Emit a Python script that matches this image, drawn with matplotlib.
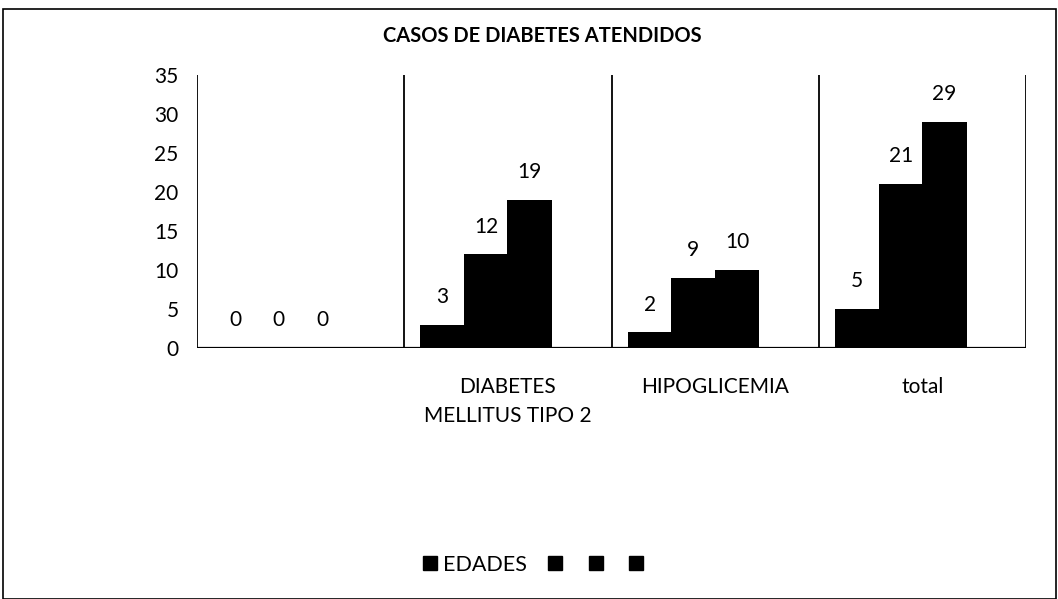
import matplotlib
matplotlib.use("Agg")
import matplotlib.pyplot as plt
import numpy as np
from matplotlib.patches import Rectangle

plt.rcParams['font.family'] = ['Lato', 'DejaVu Sans']

categories = ["", "DIABETES\nMELLITUS TIPO 2", "HIPOGLICEMIA", "total"]
series_names = ["EDADES", "", "", ""]
series_values = [
    [0, 3, 2, 5],
    [0, 12, 9, 21],
    [0, 19, 10, 29],
    [0, 0, 0, 0],
]
show_labels = [True, True, True, False]

FS = 15

fig = plt.figure(figsize=(10.58, 5.99), dpi=100)
ax = fig.add_axes([0.186, 0.419, 0.784, 0.456])

x = np.arange(len(categories))
w = 0.21
n = len(series_values)
handles = []
for i, vals in enumerate(series_values):
    off = (i - (n - 1) / 2) * w
    ax.bar(x + off, vals, width=w * 1.02, color='black', linewidth=0)
    handles.append(Rectangle((0, 0), 1, 1, color='black'))
    if show_labels[i]:
        for xi, v in zip(x + off, vals):
            ax.annotate(str(v), (xi, v), xytext=(0, 20), textcoords='offset points',
                        ha='center', va='center', fontsize=FS)

ax.set_xlim(-0.5, len(categories) - 0.5)
ax.set_ylim(0, 35)
ax.set_yticks(range(0, 36, 5))
for b in np.arange(-0.5, len(categories), 1):
    ax.axvline(b, color='black', linewidth=1.3)
ax.axhline(0, color='black', linewidth=1.6)
for s in ax.spines.values():
    s.set_visible(False)
ax.set_xticks(x)
ax.set_xticklabels(categories, fontsize=FS, linespacing=1.55)
ax.tick_params(axis='both', length=0, labelsize=FS)
ax.tick_params(axis='y', pad=13)
ax.tick_params(axis='x', pad=21)

fig.text(0.513, 0.94, "CASOS DE DIABETES ATENDIDOS", ha='center', va='center',
         fontsize=14.5, fontweight='bold')

fig.legend(handles, series_names, loc='center', bbox_to_anchor=(0.507, 0.057), ncol=4,
           frameon=False, fontsize=15.5, handlelength=0.65, handleheight=0.65,
           handletextpad=0.3, columnspacing=0.95)

fig.patches.append(Rectangle((0.003, 0.0), 0.995, 0.985, transform=fig.transFigure,
                             fill=False, edgecolor='black', linewidth=1.2))

fig.savefig("out.png", dpi=100)
